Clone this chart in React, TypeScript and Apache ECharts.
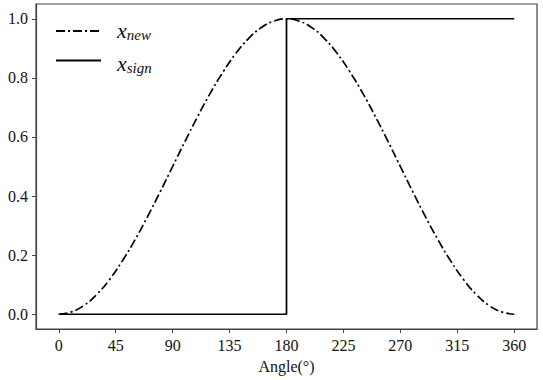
import React, { useEffect, useRef } from "react";
import * as echarts from "echarts";

const angles = [0, 10, 20, 30, 40, 50, 60, 70, 80, 90, 100, 110, 120, 130, 140, 150, 160, 170, 180,
  190, 200, 210, 220, 230, 240, 250, 260, 270, 280, 290, 300, 310, 320, 330, 340, 350, 360];
const xNew = [0, 0.008, 0.03, 0.067, 0.117, 0.179, 0.25, 0.329, 0.413, 0.5, 0.587, 0.671, 0.75, 0.821, 0.883, 0.933, 0.97, 0.992, 1.0,
  0.992, 0.97, 0.933, 0.883, 0.821, 0.75, 0.671, 0.587, 0.5, 0.413, 0.329, 0.25, 0.179, 0.117, 0.067, 0.03, 0.008, 0];
const signAngles = [0, 180, 180, 360];
const xSign = [0, 0, 1, 1];
const xTicks = [0, 45, 90, 135, 180, 225, 270, 315, 360];
const yTicks = [0.0, 0.2, 0.4, 0.6, 0.8, 1.0];
const legendSubs = ["new", "sign"];

const FONT = "'Liberation Serif', 'DejaVu Serif', serif";

export default function App() {
  const ref = useRef<HTMLDivElement>(null);
  useEffect(() => {
    const chart = echarts.init(ref.current!, null, { renderer: "svg" });
    const axisColor = "#444";
    chart.setOption({
      animation: false,
      backgroundColor: "#fff",
      grid: { left: 36, right: 6, top: 4, bottom: 51, show: true, borderColor: axisColor, borderWidth: 1.2 },
      legend: {
        orient: "vertical",
        left: 55,
        top: 24,
        padding: 0,
        itemWidth: 45,
        itemHeight: 14,
        itemGap: 17,
        itemStyle: { opacity: 0 },
        data: ["xnew", "xsign"],
        formatter: () => "",
      },
      graphic: legendSubs.map((sub, i) => ({
        type: "text",
        left: 117,
        top: 19 + i * 33,
        silent: true,
        style: {
          text: `{i|x}{s|${sub}}`,
          rich: {
            i: { fontFamily: FONT, fontStyle: "italic", fontSize: 22, fill: "#111", lineHeight: 22 },
            s: { fontFamily: FONT, fontStyle: "italic", fontSize: 15, fill: "#111", padding: [10, 0, 0, 0] },
          },
        },
      })),
      xAxis: {
        type: "value",
        min: -18,
        max: 378,
        name: "Angle(°)",
        nameLocation: "middle",
        nameGap: 29,
        nameTextStyle: { fontFamily: FONT, fontSize: 16, color: "#111" },
        axisLine: { show: true, onZero: false, lineStyle: { color: axisColor, width: 1.2 } },
        axisTick: { show: true, length: 4, lineStyle: { color: axisColor }, customValues: xTicks },
        splitLine: { show: false },
        axisLabel: {
          fontFamily: FONT,
          fontSize: 16,
          color: "#111",
          margin: 8,
          customValues: xTicks,
        },
      },
      yAxis: {
        type: "value",
        min: -0.05,
        max: 1.05,
        axisLine: { show: true, onZero: false, lineStyle: { color: axisColor, width: 1.2 } },
        axisTick: { show: true, length: 4, lineStyle: { color: axisColor }, customValues: yTicks },
        splitLine: { show: false },
        axisLabel: {
          fontFamily: FONT,
          fontSize: 16,
          color: "#111",
          margin: 8,
          customValues: yTicks,
          formatter: (v: number) => v.toFixed(1),
        },
      },
      series: [
        {
          name: "xnew",
          type: "line",
          data: angles.map((a, i) => [a, xNew[i]]),
          smooth: true,
          showSymbol: false,
          symbol: "none",
          lineStyle: { color: "#000", width: 1.7, type: [9, 3, 2, 3] },
          itemStyle: { color: "#000" },
        },
        {
          name: "xsign",
          type: "line",
          data: signAngles.map((a, i) => [a, xSign[i]]),
          showSymbol: false,
          symbol: "none",
          lineStyle: { color: "#000", width: 1.7 },
          itemStyle: { color: "#000" },
        },
      ],
    });
    return () => chart.dispose();
  }, []);
  return <div ref={ref} style={{ width: 543, height: 380, position: "absolute", left: 0, top: 0 }} />;
}
